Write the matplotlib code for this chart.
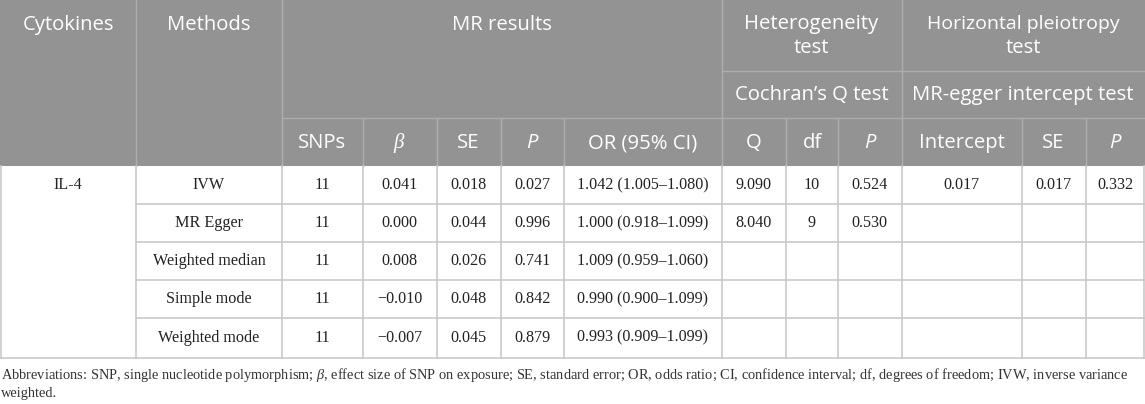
"""
MR results table for IL-4
"""

import matplotlib
matplotlib.use("Agg")
import matplotlib.pyplot as plt
from matplotlib.patches import Rectangle

plt.rcParams["mathtext.fontset"] = "custom"
plt.rcParams["mathtext.rm"] = "Liberation Serif"
plt.rcParams["mathtext.it"] = "Liberation Serif:italic"

# 数据
cytokine = "IL-4"
methods = ["IVW", "MR Egger", "Weighted median", "Simple mode", "Weighted mode"]
snps = ["11", "11", "11", "11", "11"]
beta = ["0.041", "0.000", "0.008", "\u22120.010", "\u22120.007"]
se = ["0.018", "0.044", "0.026", "0.048", "0.045"]
pval = ["0.027", "0.996", "0.741", "0.842", "0.879"]
or_ci = ["1.042 (1.005\u20131.080)", "1.000 (0.918\u20131.099)", "1.009 (0.959\u20131.060)",
         "0.990 (0.900\u20131.099)", "0.993 (0.909\u20131.099)"]
het_q = ["9.090", "8.040", "", "", ""]
het_df = ["10", "9", "", "", ""]
het_p = ["0.524", "0.530", "", "", ""]
egger_int = ["0.017", "", "", "", ""]
egger_se = ["0.017", "", "", "", ""]
egger_p = ["0.332", "", "", "", ""]

sub_headers = ["SNPs", r"$\beta$", "SE", "P", "OR (95% CI)", "Q", "df", "P", "Intercept", "SE", "P"]
footnote = ["Abbreviations: SNP, single nucleotide polymorphism; $\\beta$, effect size of SNP on exposure; "
            "SE, standard error; OR, odds ratio; CI, confidence interval; df, degrees of freedom; IVW, inverse variance",
            "weighted."]

# 版式 (像素)
W, H = 1145, 404
xs = [0, 136, 282, 362.5, 436.5, 500.5, 564, 721.5, 786, 838, 901.5, 1021.5, 1085.5, 1145]
y_h1, y_h2, y_h3 = 71, 118, 166
rows_y = [166, 204, 242, 280, 318, 357.5]

HEAD_BG = "#939393"
HEAD_LINE = "#adadad"
BODY_LINE = "#c9c9c9"
TXT = "#222222"

fig = plt.figure(figsize=(W / 100, H / 100), dpi=100)
ax = fig.add_axes([0, 0, 1, 1])
ax.set_xlim(0, W)
ax.set_ylim(H, 0)
ax.axis("off")

ax.add_patch(Rectangle((0, 0), W, y_h3, color=HEAD_BG, lw=0))

hkw = dict(color="white", fontsize=14.6, family="Open Sans", ha="center", va="center")
ax.text((xs[0] + xs[1]) / 2, 25, "Cytokines", **hkw)
ax.text((xs[1] + xs[2]) / 2, 25, "Methods", **hkw)
ax.text((xs[2] + xs[7]) / 2, 25, "MR results", **hkw)
ax.text((xs[7] + xs[10]) / 2, 24, "Heterogeneity", **hkw)
ax.text((xs[7] + xs[10]) / 2, 48, "test", **hkw)
ax.text((xs[10] + xs[13]) / 2, 24, "Horizontal pleiotropy", fontsize=14.0,
        **{k: v for k, v in hkw.items() if k != "fontsize"})
ax.text((xs[10] + xs[13]) / 2, 48, "test", **hkw)
ax.text((xs[7] + xs[10]) / 2, 95, "Cochran\u2019s Q test", **hkw)
ax.text((xs[10] + xs[13]) / 2, 95, "MR-egger intercept test", **hkw)
for i, lab in enumerate(sub_headers):
    cx = (xs[i + 2] + xs[i + 3]) / 2
    style = "italic" if lab == "P" else "normal"
    if lab.startswith("$"):
        ax.text(cx, 143, lab, color="white", fontsize=15, ha="center", va="center")
    else:
        ax.text(cx, 143, lab, style=style, **hkw)

# 表头线
hl = dict(color=HEAD_LINE, lw=1)
for x in [xs[1], xs[2], xs[7], xs[10]]:
    ax.plot([x, x], [0, y_h3], **hl)
for x in xs[3:7] + xs[8:10] + xs[11:13]:
    ax.plot([x, x], [y_h2, y_h3], **hl)
ax.plot([xs[2], xs[7]], [y_h2, y_h2], **hl)
ax.plot([xs[7], xs[13]], [y_h1, y_h1], **hl)
ax.plot([xs[7], xs[13]], [y_h2, y_h2], **hl)

# 数据
cols = [snps, beta, se, pval, or_ci, het_q, het_df, het_p, egger_int, egger_se, egger_p]
dkw = dict(color=TXT, fontsize=11.6, family="Liberation Serif", ha="center", va="center")
ax.text((xs[0] + xs[1]) / 2, (rows_y[0] + rows_y[1]) / 2, cytokine, **dkw)
for r, m in enumerate(methods):
    cy = (rows_y[r] + rows_y[r + 1]) / 2
    ax.text((xs[1] + xs[2]) / 2, cy, m, **dkw)
    for c, col in enumerate(cols):
        ax.text((xs[c + 2] + xs[c + 3]) / 2, cy, col[r], **dkw)

bl = dict(color=BODY_LINE, lw=1.2)
for y in rows_y[1:-1]:
    ax.plot([xs[1], W], [y, y], **bl)
ax.plot([0, W], [rows_y[-1], rows_y[-1]], **bl)
for x in [0.6] + xs[1:-1] + [W - 0.6]:
    ax.plot([x, x], [rows_y[0], rows_y[-1]], **bl)

# 注释
for i, line in enumerate(footnote):
    ax.text(1, 378.5 + i * 19, line, color="#333333", fontsize=10.35, family="Liberation Serif",
            ha="left", va="baseline")

fig.savefig("out.png", dpi=100, facecolor="white")
plt.close(fig)
